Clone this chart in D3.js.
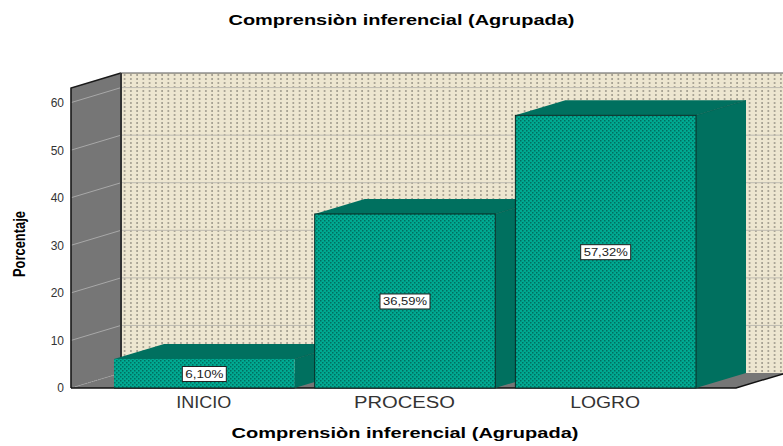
<!DOCTYPE html>
<html><head><meta charset="utf-8">
<script src="https://cdnjs.cloudflare.com/ajax/libs/d3/7.8.5/d3.min.js"></script>
<style>html,body{margin:0;padding:0;background:#fff}svg{display:block}text{font-family:"Liberation Sans",Arial,sans-serif}</style>
</head><body><script>
const categories = ["INICIO", "PROCESO", "LOGRO"];
const values = [6.10, 36.59, 57.32];
const valueLabels = ["6,10%", "36,59%", "57,32%"];
const yTicks = [0, 10, 20, 30, 40, 50, 60];
const titleText = "Comprensiòn inferencial (Agrupada)";
const yTitle = "Porcentaje";

const W = 783, H = 446, dx = 50, dy = -15, x0 = 71, xEnd = 736, y0 = 388;
const y = d3.scaleLinear().domain([0, 60]).range([y0, 102.6]);
const x = d3.scaleBand().domain(categories).range([114, 696]).paddingInner(0.1).paddingOuter(0);
const topV = y.invert(88);

const svg = d3.select("body").append("svg").attr("width", W).attr("height", H);
const defs = svg.append("defs");
const wp = defs.append("pattern").attr("id", "wall").attr("patternUnits", "userSpaceOnUse")
  .attr("x", 121).attr("y", 73).attr("width", 6.25).attr("height", 4);
wp.append("rect").attr("width", 6.25).attr("height", 4).attr("fill", "#ede6d0");
wp.append("rect").attr("x", 3).attr("y", 1).attr("width", 1.2).attr("height", 2).attr("fill", "#8a867a");
const bp = defs.append("pattern").attr("id", "bar").attr("patternUnits", "userSpaceOnUse")
  .attr("width", 4).attr("height", 4);
bp.append("rect").attr("width", 4).attr("height", 4).attr("fill", "#00aa92");
bp.append("rect").attr("x", 0).attr("y", 0).attr("width", 1.5).attr("height", 1.5).attr("fill", "#006f60");
bp.append("rect").attr("x", 2).attr("y", 2).attr("width", 1.5).attr("height", 1.5).attr("fill", "#006f60");

const poly = (pts, fill, stroke, sw) => svg.append("polygon")
  .attr("points", pts.map(p => p.join(",")).join(" "))
  .attr("fill", fill).attr("stroke", stroke || "none").attr("stroke-width", sw || 0);

// back wall
const backL = x0 + dx, backTop = y(topV) + dy, backBot = y0 + dy;
svg.append("rect").attr("x", backL).attr("y", backTop).attr("width", W - backL + 5).attr("height", backBot - backTop).attr("fill", "url(#wall)");
svg.append("line").attr("x1", backL).attr("x2", W).attr("y1", backTop).attr("y2", backTop).attr("stroke", "#555").attr("stroke-width", 1);

// side wall
poly([[x0, y(topV)], [backL, backTop], [backL, backBot], [x0, y0]], "#767676");

// floor
poly([[x0, y0], [backL, backBot], [xEnd + dx, backBot], [xEnd, y0]], "#767676");

// grid lines
yTicks.filter(t => t > 0).forEach(t => {
  svg.append("line").attr("x1", x0).attr("y1", y(t)).attr("x2", backL).attr("y2", y(t) + dy).attr("stroke", "#a8a8a8");
  svg.append("line").attr("x1", backL).attr("y1", y(t) + dy).attr("x2", W).attr("y2", y(t) + dy).attr("stroke", "#bdbab0");
});
svg.append("line").attr("x1", x0).attr("y1", y0).attr("x2", backL).attr("y2", backBot).attr("stroke", "#a5a5a5").attr("stroke-dasharray", "1 1");

// wall edges
svg.append("path").attr("fill", "none").attr("stroke", "#1a1a1a").attr("stroke-width", 1.6)
  .attr("d", `M${x0},${y0}V${y(topV)}L${backL},${backTop}`);
svg.append("line").attr("x1", backL).attr("x2", backL).attr("y1", backTop).attr("y2", backBot).attr("stroke", "#333").attr("stroke-width", 2);
svg.append("path").attr("fill", "none").attr("stroke", "#111").attr("stroke-width", 1.4)
  .attr("d", `M${x0},${y0}H${xEnd}L${xEnd + dx},${backBot}`);

// bars
const dark = "#00705f";
categories.forEach((c, i) => {
  const l = x(c), r = l + x.bandwidth(), t = y(values[i]);
  poly([[l, t], [l + dx, t + dy], [r + dx, t + dy], [r, t]], dark);
  poly([[r, t], [r + dx, t + dy], [r + dx, y0 + dy], [r, y0]], dark);
  svg.append("line").attr("x1", r).attr("y1", t).attr("x2", r + dx).attr("y2", t + dy).attr("stroke", "#005c4e").attr("stroke-width", .7);
  svg.append("rect").attr("x", l).attr("y", t).attr("width", x.bandwidth()).attr("height", y0 - t)
    .attr("fill", "url(#bar)").attr("stroke", i === 0 ? "none" : "#0a2a25").attr("stroke-width", 1);
  if (i === 0) svg.append("line").attr("x1", l).attr("x2", r).attr("y1", y0).attr("y2", y0).attr("stroke", "#111").attr("stroke-width", 1.2);
});

// value labels
categories.forEach((c, i) => {
  const cx = x(c) + x.bandwidth() / 2, cy = (y(values[i]) + y0) / 2;
  const bw = i === 0 ? 44 : 50;
  svg.append("rect").attr("x", cx - bw / 2).attr("y", cy - 7).attr("width", bw).attr("height", 15)
    .attr("fill", "#fff").attr("stroke", "#222").attr("stroke-width", 1);
  svg.append("text").attr("x", cx).attr("y", cy + 4.5).attr("text-anchor", "middle")
    .attr("font-size", 11.5).attr("fill", "#222")
    .attr("textLength", bw - 6).attr("lengthAdjust", "spacingAndGlyphs").text(valueLabels[i]);
});

// y axis labels
const axisG = svg.append("g").attr("transform", `translate(${x0},0)`)
  .call(d3.axisLeft(y).tickValues(yTicks).tickSize(0).tickPadding(7));
axisG.select(".domain").remove();
axisG.selectAll("text").attr("font-size", 12).attr("fill", "#333").style("font-family", '"Liberation Sans",Arial,sans-serif');

// x axis labels
const catWidths = [55, 101, 70];
svg.selectAll(".cat").data(categories).join("text").attr("class", "cat")
  .attr("x", c => x(c) + x.bandwidth() / 2 - 0.5).attr("y", 408).attr("text-anchor", "middle")
  .attr("font-size", 16).attr("fill", "#333").attr("font-weight", 300)
  .attr("textLength", (c, i) => catWidths[i]).attr("lengthAdjust", "spacingAndGlyphs").text(c => c);

// titles
svg.append("text").attr("x", 401.5).attr("y", 25).attr("text-anchor", "middle")
  .attr("font-size", 15).attr("font-weight", "bold").attr("fill", "#000")
  .attr("textLength", 346).attr("lengthAdjust", "spacingAndGlyphs").text(titleText);
svg.append("text").attr("x", 405).attr("y", 438).attr("text-anchor", "middle")
  .attr("font-size", 15).attr("font-weight", "bold").attr("fill", "#000")
  .attr("textLength", 347).attr("lengthAdjust", "spacingAndGlyphs").text(titleText);
svg.append("text").attr("transform", "translate(25,244) rotate(-90)").attr("text-anchor", "middle")
  .attr("font-size", 17).attr("font-weight", "bold").attr("fill", "#000")
  .attr("textLength", 66).attr("lengthAdjust", "spacingAndGlyphs").text(yTitle);
</script></body></html>
